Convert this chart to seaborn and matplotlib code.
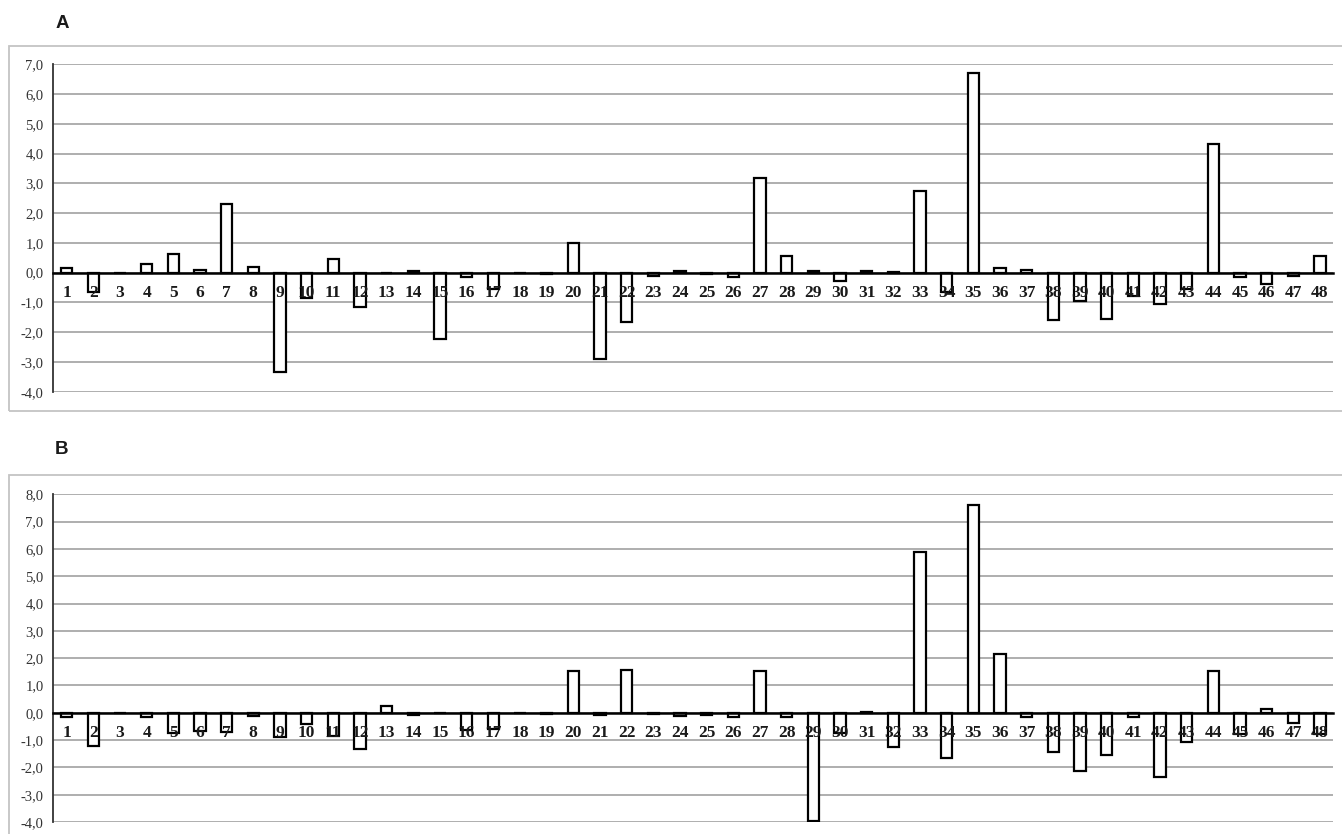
import numpy as np
import pandas as pd
import matplotlib
matplotlib.use("Agg")
import matplotlib.pyplot as plt
import seaborn as sns
from matplotlib.patches import Rectangle

categories = [str(i) for i in range(1, 49)]

values_a = [0.15, -0.66, 0.0, 0.28, 0.64, 0.09, 2.30, 0.19, -3.33, -0.84,
            0.46, -1.15, 0.0, 0.05, -2.24, -0.16, -0.56, 0.0, -0.05, 1.00,
            -2.89, -1.66, -0.10, 0.04, -0.04, -0.16, 3.17, 0.56, 0.06, -0.29,
            0.05, 0.01, 2.74, -0.64, 6.71, 0.17, 0.09, -1.59, -0.94, -1.56,
            -0.80, -1.06, -0.54, 4.32, -0.16, -0.39, -0.12, 0.57]

values_b = [-0.17, -1.20, 0.0, -0.17, -0.75, -0.65, -0.71, -0.13, -0.88, -0.42,
            -0.86, -1.32, 0.24, -0.10, -0.02, -0.62, -0.59, 0.0, -0.06, 1.52,
            -0.07, 1.58, -0.06, -0.11, -0.09, -0.15, 1.52, -0.17, -3.98, -0.73,
            0.02, -1.25, 5.87, -1.66, 7.60, 2.14, -0.17, -1.44, -2.13, -1.53,
            -0.17, -2.37, -1.06, 1.52, -0.77, 0.12, -0.38, -0.77]

yticks_a = [-4, -3, -2, -1, 0, 1, 2, 3, 4, 5, 6, 7]
yticks_b = [-4, -3, -2, -1, 0, 1, 2, 3, 4, 5, 6, 7, 8]
ytick_labels_a = ["-4,0", "-3,0", "-2,0", "-1,0", "0,0", "1,0", "2,0", "3,0",
                  "4,0", "5,0", "6,0", "7,0"]
ytick_labels_b = ["-4,0", "-3,0", "-2,0", "-1,0", "0,0", "1,0", "2,0", "3,0",
                  "4,0", "5,0", "6,0", "7,0", "8,0"]
panel_labels = ["A", "B"]

df = pd.DataFrame({"cat": categories, "A": values_a, "B": values_b})

sns.set_style("white")
plt.rcParams["font.family"] = ["Liberation Serif", "DejaVu Serif"]

W, H = 1342, 834
fig = plt.figure(figsize=(W / 100, H / 100), dpi=100)


def fx(px):
    return px / W


def fy(py):
    return 1 - py / H


# outer boxes (figure coords)
for top, bot in [(45.7, 411), (475, 845)]:
    fig.patches.append(Rectangle((fx(9), fy(bot)), fx(1345) - fx(9), fy(top) - fy(bot),
                                 transform=fig.transFigure, fill=False,
                                 edgecolor="#c4c4c4", linewidth=1.3, zorder=0))

panels = [
    ("A", 64.3, 391.7, (-4, 7), yticks_a, ytick_labels_a, 23),
    ("B", 494.3, 822.0, (-4, 8), yticks_b, ytick_labels_b, 450),
]

left_px, right_px = 53.3, 1333.3
for col, top, bot, ylim, yt, ytl, lab_y in panels:
    ax = fig.add_axes([fx(left_px), fy(bot), fx(right_px) - fx(left_px), fy(top) - fy(bot)])
    sns.barplot(data=df, x="cat", y=col, order=categories, color="white",
                saturation=1, edgecolor="black", linewidth=1.6, width=0.42,
                ax=ax, zorder=3)
    ax.set_xlim(-0.5, 47.5)
    ax.set_ylim(*ylim)
    ax.set_yticks(yt)
    ax.set_yticklabels(ytl)
    ax.set_xlabel("")
    ax.set_ylabel("")
    ax.yaxis.grid(True, color="#a8a8a8", linewidth=1.3)
    ax.xaxis.grid(False)
    ax.set_axisbelow(True)
    ax.xaxis.set_zorder(6)
    for s in ["top", "right"]:
        ax.spines[s].set_visible(False)
    ax.spines["left"].set_color("#333333")
    ax.spines["left"].set_linewidth(1.3)
    ax.spines["bottom"].set_position(("data", 0))
    ax.spines["bottom"].set_color("black")
    ax.spines["bottom"].set_linewidth(1.8)
    ax.spines["bottom"].set_zorder(5)
    ax.set_xticks(np.arange(-0.5, 48, 1), minor=True)
    ax.tick_params(axis="x", which="major", length=0, pad=9,
                   labelsize=12.5, labelcolor="#1a1a1a")
    for t in ax.get_xticklabels():
        t.set_fontweight("bold")
    ax.tick_params(axis="x", which="minor", direction="inout", length=7,
                   width=1.5, color="black")
    ax.tick_params(axis="y", length=0, pad=7, labelsize=10.5, labelcolor="#333333")
    fig.text(fx(62), fy(lab_y), col, ha="center", va="center",
             fontsize=13.5, fontweight="bold", family=["Liberation Sans", "DejaVu Sans"],
             color="#1a1a1a")

fig.savefig("out.png", dpi=100, facecolor="white")
